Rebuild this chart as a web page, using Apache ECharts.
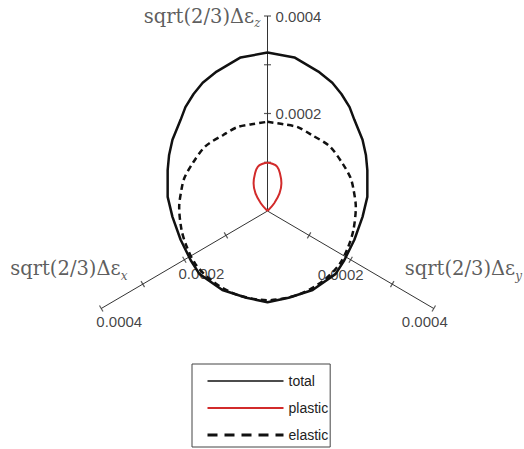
<!DOCTYPE html>
<html>
<head>
<meta charset="utf-8">
<script src="https://cdn.jsdelivr.net/npm/echarts@6/dist/echarts.min.js"></script>
<style>
  html, body { margin: 0; padding: 0; background: #fff; }
  #chart { width: 524px; height: 449px; }
</style>
</head>
<body>
<div id="chart"></div>
<script>
// pi-plane, units of 1e-4 strain; z up, x lower left, y lower right
const axisAngles = [90, 210, 330];
const axisNames = ["z", "x", "y"];
const tickValues = [1, 2, 3, 4];
const tickLabelValues = [2, 4];
const tickLabels = ["0.0002", "0.0004"];
const axisMax = 4;

const totalPts = [
  [0, 3.25], [0.56, 3.15], [1.06, 2.86], [1.35, 2.63], [1.54, 2.40], [1.71, 2.13],
  [1.81, 1.87], [1.98, 1.46], [2.05, 1.15], [2.08, 0.84], [2.08, 0.29], [1.98, -0.12],
  [1.81, -0.59], [1.60, -1.01], [1.42, -1.29], [0.94, -1.62], [0.44, -1.78], [0, -1.87],
  [-0.44, -1.78], [-0.94, -1.62], [-1.42, -1.29], [-1.60, -1.01], [-1.81, -0.59],
  [-1.98, -0.12], [-2.08, 0.29], [-2.08, 0.84], [-2.05, 1.15], [-1.98, 1.46], [-1.81, 1.87],
  [-1.71, 2.13], [-1.54, 2.40], [-1.35, 2.63], [-1.06, 2.86], [-0.56, 3.15], [0, 3.25]
];

const elasticPts = [
  [0, 1.83], [0.33, 1.78], [0.63, 1.72], [0.92, 1.56], [1.29, 1.33], [1.56, 0.98],
  [1.73, 0.68], [1.79, 0.45], [1.84, 0.08], [1.79, -0.39], [1.68, -0.74], [1.50, -1.09],
  [1.15, -1.44], [0.63, -1.72], [0, -1.83], [-0.63, -1.72], [-1.15, -1.44], [-1.50, -1.09],
  [-1.68, -0.74], [-1.79, -0.39], [-1.84, 0.08], [-1.79, 0.45], [-1.73, 0.68], [-1.56, 0.98],
  [-1.29, 1.33], [-0.92, 1.56], [-0.63, 1.72], [-0.33, 1.78], [0, 1.83]
];

const plasticPts = [
  [0, 0], [0.14, 0.16], [0.25, 0.36], [0.29, 0.57], [0.26, 0.77], [0.20, 0.91], [0.10, 0.97],
  [0, 0.99], [-0.10, 0.97], [-0.20, 0.91], [-0.26, 0.77], [-0.29, 0.57], [-0.25, 0.36],
  [-0.14, 0.16], [0, 0]
];

const rad = a => a * Math.PI / 180;
const onAxis = (r, a) => [r * Math.cos(rad(a)), r * Math.sin(rad(a))];

// label offsets (px) for tick labels and axis titles
const tickLabelOffset = { z: [[31, 0], [31, 0]], x: [[17, 14], [18, 13]], y: [[-10, 15], [-9, 13]] };
const titleOffset = { z: [-7, 0, "right"], x: [-91, -40, "left"], y: [-29, -40, "left"] };

const chart = echarts.init(document.getElementById("chart"), null, { renderer: "svg" });

const axisSeries = axisAngles.map((a, i) => ({
  type: "line",
  name: "axis-" + axisNames[i],
  data: [onAxis(0, a), onAxis(axisMax, a)],
  symbol: "none",
  silent: true,
  lineStyle: { color: "#333", width: 1 },
  z: 1
}));

const tickData = [];
axisAngles.forEach(a => {
  tickValues.forEach(v => tickData.push({ value: onAxis(v, a), symbolRotate: a }));
});

const labelData = [];
axisAngles.forEach((a, i) => {
  tickLabelValues.forEach((v, j) => {
    labelData.push({
      value: onAxis(v, a),
      label: { formatter: tickLabels[j], offset: tickLabelOffset[axisNames[i]][j] }
    });
  });
});

const titleData = axisAngles.map((a, i) => {
  const o = titleOffset[axisNames[i]];
  return {
    value: onAxis(axisMax, a),
    label: { formatter: "{m|sqrt(2/3)\u0394\u03b5}{s|" + axisNames[i] + "}", offset: [o[0], o[1]], align: o[2] }
  };
});

chart.setOption({
  animation: false,
  grid: { left: 27.5, top: 16, width: 480, height: 390 },
  xAxis: { type: "value", min: -5, max: 5, show: false },
  yAxis: { type: "value", min: -4, max: 4, show: false },
  legend: {
    orient: "vertical",
    left: 192,
    top: 364,
    data: [
      { name: "total", lineStyle: { width: 1.5 } },
      { name: "plastic", lineStyle: { width: 2 } },
      { name: "elastic", lineStyle: { width: 3, type: [10, 7] } }
    ],
    itemWidth: 76,
    itemHeight: 14,
    itemGap: 13,
    itemStyle: { opacity: 0 },
    padding: [10, 2, 5, 14],
    borderColor: "#444",
    borderWidth: 1,
    textStyle: { fontFamily: "Liberation Sans", fontSize: 14, color: "#222" }
  },
  series: axisSeries.concat([
    {
      type: "scatter",
      name: "ticks",
      data: tickData,
      symbol: "rect",
      symbolSize: [1.2, 7],
      itemStyle: { color: "#333" },
      silent: true,
      z: 1
    },
    {
      type: "scatter",
      name: "tick labels",
      data: labelData,
      symbolSize: 1,
      itemStyle: { color: "rgba(0,0,0,0)" },
      silent: true,
      label: {
        show: true,
        position: "inside",
        fontFamily: "Liberation Sans",
        fontSize: 15,
        color: "#111"
      }
    },
    {
      type: "scatter",
      name: "titles",
      data: titleData,
      symbolSize: 1,
      itemStyle: { color: "rgba(0,0,0,0)" },
      silent: true,
      label: {
        show: true,
        position: "inside",
        rich: {
          m: { fontFamily: "DejaVu Serif", fontSize: 19.5, color: "#333", lineHeight: 26 },
          s: { fontFamily: "DejaVu Serif", fontStyle: "italic", fontSize: 12, color: "#333", lineHeight: 16, verticalAlign: "bottom" }
        }
      }
    },
    {
      type: "line",
      name: "elastic",
      data: elasticPts,
      symbol: "none",
      smooth: 0.3,
      color: "#111",
      lineStyle: { color: "#111", width: 2.5, type: [6, 4] },
      z: 2
    },
    {
      type: "line",
      name: "total",
      data: totalPts,
      symbol: "none",
      color: "#111",
      lineStyle: { color: "#111", width: 2.5 },
      z: 3
    },
    {
      type: "line",
      name: "plastic",
      data: plasticPts,
      symbol: "none",
      smooth: 0.4,
      color: "#d22b2b",
      lineStyle: { color: "#d22b2b", width: 2 },
      z: 4
    }
  ])
});
</script>
</body>
</html>
